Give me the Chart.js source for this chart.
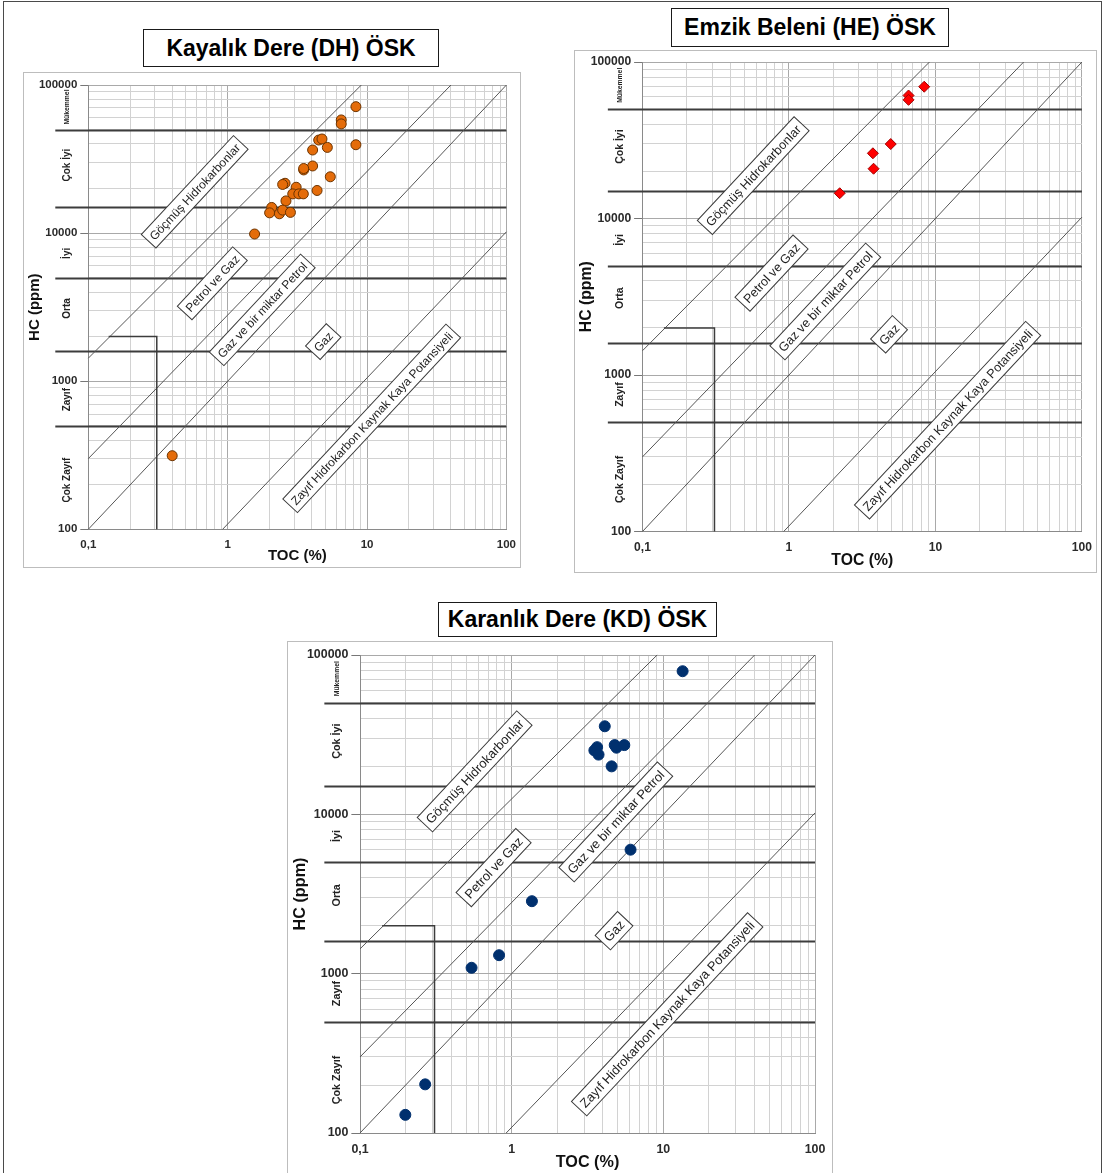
<!DOCTYPE html>
<html>
<head>
<meta charset="utf-8">
<script src="https://cdn.jsdelivr.net/npm/chart.js@4.4.1/dist/chart.umd.min.js"></script>
<style>
  html, body { margin: 0; padding: 0; background: #fff; width: 1104px; height: 1173px; overflow: hidden; }
  .page { position: absolute; left: 3px; top: 1px; width: 1097px; height: 1200px; border: 1.5px solid #4a4a4a; }
  .ttl { position: absolute; box-sizing: border-box; border: 1.5px solid #1a1a1a; background: #fff;
         font: bold 23px "Liberation Sans", Arial, sans-serif; color: #000;
         display: flex; align-items: center; justify-content: center; white-space: nowrap; }
  canvas { position: absolute; }
</style>
</head>
<body>
<div class="page"></div>
<div class="ttl" style="left:143px; top:29px; width:296px; height:38px;">Kayalık Dere (DH) ÖSK</div>
<div class="ttl" style="left:671px; top:8px; width:278px; height:39px;">Emzik Beleni (HE) ÖSK</div>
<div class="ttl" style="left:438px; top:602px; width:279px; height:35px;">Karanlık Dere (KD) ÖSK</div>

<script>
// ---------------- data ----------------
// Kayalık Dere (DH): TOC (%) and HC (ppm)
const tocDH = [8.32, 6.53, 6.53, 8.32, 4.50, 4.75, 5.19, 4.07, 4.07, 3.51, 3.51, 5.45, 4.38,
               2.58, 2.48, 3.10, 2.93, 3.24, 3.49, 2.62, 2.07, 2.00, 2.35, 2.48, 2.82, 1.56, 0.40];
const hcDH  = [71400, 58100, 54600, 39500, 42500, 43200, 37900, 36400, 28400, 26700, 27300, 24000, 19400,
               21700, 21300, 20400, 18400, 18400, 18400, 16500, 14900, 13700, 13500, 14300, 13800, 9860, 314];

// Emzik Beleni (HE)
const tocHE = [8.38, 6.55, 6.55, 4.95, 3.74, 3.78, 2.22];
const hcHE  = [69500, 61100, 57300, 29900, 26100, 20800, 14500];

// Karanlık Dere (KD)
const tocKD = [13.4, 4.11, 3.66, 3.51, 3.74, 4.78, 4.91, 5.53, 4.56, 6.08, 1.36, 0.826, 0.544, 0.269, 0.199];
const hcKD  = [79100, 35700, 26400, 25200, 23700, 27200, 26200, 27200, 20000, 6000, 2850, 1306, 1089, 202, 130];

// field boundaries (TOC pairs / HC pairs)
const boundaryToc = [[0.1, 9.1], [0.1, 40], [0.1, 100], [0.92, 100]];
const boundaryHc  = [[1430, 100000], [300, 100000], [100, 100000], [100, 10200]];

// low-maturity cut-off corner
const cutoffToc = [0.14, 0.31, 0.31];
const cutoffHc  = [2000, 2000, 100];

// HC potential classes
const hcClassLimits = [500, 1600, 5000, 15000, 50000];
const hcClassNames  = ['Mükemmel', 'Çok İyi', 'İyi', 'Orta', 'Zayıf', 'Çok Zayıf'];
const hcClassAt     = [71000, 28800, 7300, 3100, 750, 215];

// field names
const fieldNames = ['Göçmüş Hidrokarbonlar', 'Petrol ve Gaz', 'Gaz ve bir miktar Petrol', 'Gaz',
                    'Zayıf Hidrokarbon Kaynak Kaya Potansiyeli'];

// axis ticks
const xDecades = [0.1, 1, 10, 100];
const xDecadeLabels = ['0,1', '1', '10', '100'];
const yDecades = [100, 1000, 10000, 100000];
const yDecadeLabels = ['100', '1000', '10000', '100000'];

// ---------------- layout ----------------
const FONT = '"Liberation Sans", Arial, sans-serif';

const panels = [
  { id: 'cDH', toc: tocDH, hc: hcDH,
    frame: { x: 23, y: 72, w: 498, h: 496 }, plot: { l: 88.3, t: 85, r: 507.7, b: 529.3 }, s: 1.0,
    marker: { style: 'circle', r: 5, bg: '#E46C0A', bd: '#6B3300' },
    tagAt: [[0.58, 19000], [0.776, 4580], [1.77, 3030], [4.85, 1850], [10.8, 561]],
    yTitleX: 12, xTitleY: 12 },
  { id: 'cHE', toc: tocHE, hc: hcHE,
    frame: { x: 574, y: 50, w: 523, h: 523 }, plot: { l: 642.5, t: 62, r: 1085, b: 531.5 }, s: 1.05,
    marker: { style: 'rectRot', r: 5.5, bg: '#FF0000', bd: '#A00000' },
    tagAt: [[0.57, 18800], [0.76, 4480], [1.77, 2950], [4.82, 1820], [12.1, 514]],
    yTitleX: 13, xTitleY: 12 },
  { id: 'cKD', toc: tocKD, hc: hcKD,
    frame: { x: 287, y: 641, w: 546, h: 545 }, plot: { l: 360, t: 655, r: 815, b: 1133 }, s: 1.08,
    marker: { style: 'circle', r: 5.5, bg: '#00306E', bd: '#00306E' },
    tagAt: [[0.57, 18600], [0.76, 4630], [4.86, 8960], [4.73, 1860], [10.6, 556]],
    yTitleX: 14, xTitleY: 23 }
];

// grid positions at 1..9 x 10^n
function logGrid(min, max) {
  const v = [];
  for (let e = Math.round(Math.log10(min)); e < Math.round(Math.log10(max)); e++)
    for (let k = 1; k <= 9; k++) v.push(+(k * Math.pow(10, e)).toPrecision(4));
  v.push(max);
  return v;
}
const isIn = (list, v) => list.findIndex(d => Math.abs(d - v) / d < 1e-6);

function drawTag(ctx, x, y, text, deg, size) {
  ctx.save();
  ctx.translate(x, y);
  ctx.rotate(-deg * Math.PI / 180);
  ctx.font = size + 'px ' + FONT;
  const w = ctx.measureText(text).width + size * 0.7;
  const h = size + 8;
  ctx.fillStyle = '#fff';
  ctx.fillRect(-w / 2, -h / 2, w, h);
  ctx.strokeStyle = '#3a3a3a';
  ctx.lineWidth = 1;
  ctx.strokeRect(-w / 2, -h / 2, w, h);
  ctx.fillStyle = '#1e1e1e';
  ctx.textAlign = 'center';
  ctx.textBaseline = 'middle';
  ctx.fillText(text, 0, 1);
  ctx.restore();
}

const hcClassPlugin = {
  id: 'hcClasses',
  beforeDraw(chart) {
    const { ctx, width, height } = chart;
    ctx.save();
    ctx.strokeStyle = '#bdbdbd';
    ctx.lineWidth = 1;
    ctx.strokeRect(0.5, 0.5, width - 1, height - 1);
    ctx.restore();
  },
  beforeDatasetsDraw(chart, args, o) {
    const { ctx, chartArea: a, scales: { y } } = chart;
    ctx.save();
    ctx.strokeStyle = '#3c3c3c';
    ctx.lineWidth = 1.8;
    hcClassLimits.forEach(v => {
      const py = Math.round(y.getPixelForValue(v)) + 0.5;
      ctx.beginPath();
      ctx.moveTo(a.left - 33 * o.s, py);
      ctx.lineTo(a.right, py);
      ctx.stroke();
    });
    ctx.restore();
  },
  afterDatasetsDraw(chart, args, o) {
    const { ctx, scales: { x, y } } = chart;
    fieldNames.forEach((name, i) => {
      const [tx, ty] = o.tagAt[i];
      drawTag(ctx, x.getPixelForValue(tx), y.getPixelForValue(ty), name, 47, 12 * o.s);
    });
  },
  afterDraw(chart, args, o) {
    const { ctx, chartArea: a, scales: { y } } = chart;
    ctx.save();
    ctx.fillStyle = '#222';
    ctx.textAlign = 'center';
    ctx.textBaseline = 'middle';
    hcClassNames.forEach((name, i) => {
      const size = i === 0 ? 6.8 : 10 * o.s;
      ctx.save();
      ctx.translate(a.left - 21 * o.s, y.getPixelForValue(hcClassAt[i]));
      ctx.rotate(-Math.PI / 2);
      ctx.font = 'bold ' + size + 'px ' + FONT;
      ctx.fillText(name, 0, 0);
      ctx.restore();
    });
    ctx.restore();
  }
};

panels.forEach(p => {
  const cv = document.createElement('canvas');
  cv.id = p.id;
  cv.width = p.frame.w;
  cv.height = p.frame.h;
  cv.style.left = p.frame.x + 'px';
  cv.style.top = p.frame.y + 'px';
  cv.style.width = p.frame.w + 'px';
  cv.style.height = p.frame.h + 'px';
  document.body.appendChild(cv);

  const s = p.s;
  const yAxisW = p.plot.l - p.frame.x;
  const xAxisH = (p.frame.y + p.frame.h) - p.plot.b;
  const tickFont = { family: FONT, size: 11.5 * s, weight: 'bold' };
  const titleFont = { family: FONT, size: 15 * s, weight: 'bold' };

  const datasets = [{
    label: 'HC / TOC',
    data: p.toc.map((t, i) => ({ x: t, y: p.hc[i] })),
    pointStyle: p.marker.style,
    pointRadius: p.marker.r,
    backgroundColor: p.marker.bg,
    borderColor: p.marker.bd,
    borderWidth: 1,
    order: 0
  }];
  boundaryToc.forEach((pair, i) => datasets.push({
    data: pair.map((t, k) => ({ x: t, y: boundaryHc[i][k] })),
    showLine: true, pointRadius: 0, borderColor: '#555', borderWidth: 1, fill: false, order: 2
  }));
  datasets.push({
    data: cutoffToc.map((t, k) => ({ x: t, y: cutoffHc[k] })),
    showLine: true, pointRadius: 0, borderColor: '#3c3c3c', borderWidth: 1.5, fill: false, order: 1
  });

  new Chart(cv, {
    type: 'scatter',
    data: { datasets },
    plugins: [hcClassPlugin],
    options: {
      responsive: false,
      animation: false,
      events: [],
      clip: false,
      layout: { padding: { left: 0, bottom: 0, top: p.plot.t - p.frame.y, right: p.frame.x + p.frame.w - p.plot.r } },
      plugins: {
        legend: { display: false },
        tooltip: { enabled: false },
        hcClasses: { s, tagAt: p.tagAt }
      },
      scales: {
        x: {
          type: 'logarithmic', min: 0.1, max: 100,
          afterBuildTicks: sc => { sc.ticks = logGrid(0.1, 100).map(v => ({ value: v })); },
          afterFit: sc => { sc.height = xAxisH; },
          ticks: {
            autoSkip: false, maxRotation: 0, padding: 5, color: '#2a2a2a', font: tickFont,
            callback: v => { const i = isIn(xDecades, v); return i >= 0 ? xDecadeLabels[i] : ''; }
          },
          grid: {
            color: c => isIn(xDecades, c.tick.value) >= 0 ? '#a9a9a9' : '#d2d2d2',
            lineWidth: 1, tickLength: 4, tickColor: 'rgba(0,0,0,0)'
          },
          border: { color: '#8a8a8a', width: 1 },
          title: { display: true, text: 'TOC (%)', color: '#111', font: titleFont,
                   padding: { top: 0, bottom: p.xTitleY - titleFont.size * 0.6 } }
        },
        y: {
          type: 'logarithmic', min: 100, max: 100000,
          afterBuildTicks: sc => { sc.ticks = logGrid(100, 100000).map(v => ({ value: v })); },
          afterFit: sc => { sc.width = yAxisW; },
          ticks: {
            autoSkip: false, padding: 3, color: '#2a2a2a', font: tickFont,
            callback: v => { const i = isIn(yDecades, v); return i >= 0 ? yDecadeLabels[i] : ''; }
          },
          grid: {
            color: c => isIn(yDecades, c.tick.value) >= 0 ? '#a9a9a9' : '#d2d2d2',
            lineWidth: 1, tickLength: 8 * s,
            tickColor: c => isIn(yDecades, c.tick.value) >= 0 ? '#777' : 'rgba(0,0,0,0)'
          },
          border: { color: '#8a8a8a', width: 1 },
          title: { display: true, text: 'HC (ppm)', color: '#111', font: titleFont,
                   padding: { top: p.yTitleX - titleFont.size * 0.6, bottom: 0 } }
        }
      }
    }
  });
});
</script>
</body>
</html>
